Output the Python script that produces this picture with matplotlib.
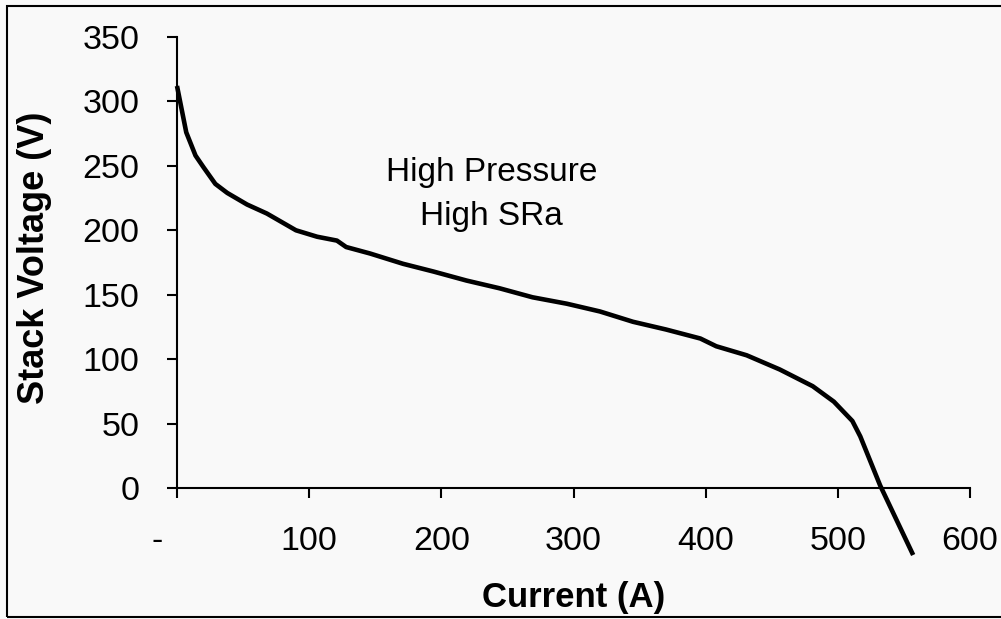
import matplotlib
matplotlib.use('Agg')
import matplotlib.pyplot as plt
from matplotlib.patches import Rectangle

plt.rcParams['font.family'] = ['Liberation Sans', 'DejaVu Sans']

# Polarization curve
current = [0, 7, 14, 20, 29, 38, 53, 68, 90, 106, 121, 128, 146, 171, 194,
           219, 244, 269, 295, 320, 345, 370, 396, 408, 431, 456, 481, 497,
           511, 517, 532, 557]
voltage = [312, 276, 258, 249, 236, 229, 220, 213, 200, 195, 192, 187, 182,
           174, 168, 161, 155, 148, 143, 137, 129, 123, 116, 110, 103, 92,
           79, 67, 52, 40, 2, -52]

x_ticks = [0, 100, 200, 300, 400, 500, 600]
x_tick_labels = ['-    ', '100', '200', '300', '400', '500', '600']
y_ticks = [0, 50, 100, 150, 200, 250, 300, 350]

bg = '#f9f9f9'
fig = plt.figure(figsize=(10.01, 6.19), dpi=100, facecolor=bg)
ax = fig.add_axes([177 / 1001, 131 / 619, 793 / 1001, 451 / 619])
ax.set_facecolor(bg)

ax.plot(current, voltage, color='black', linewidth=3.3, clip_on=False,
        solid_joinstyle='round', solid_capstyle='butt')

ax.set_xlim(0, 600)
ax.set_ylim(0, 350)
ax.set_xticks(x_ticks)
ax.set_xticklabels(x_tick_labels)
ax.set_yticks(y_ticks)

for side in ['top', 'right']:
    ax.spines[side].set_visible(False)
for side in ['left', 'bottom']:
    ax.spines[side].set_linewidth(1.5)

ax.tick_params(axis='both', direction='out', length=7, width=1.5,
               labelsize=24.5, colors='black')
ax.tick_params(axis='x', pad=20)
ax.tick_params(axis='y', pad=20)

ax.set_xlabel('Current (A)', fontsize=25, fontweight='bold')
ax.set_ylabel('Stack Voltage (V)', fontsize=26, fontweight='bold')
ax.xaxis.set_label_coords(0.5, -0.206)
ax.yaxis.set_label_coords(-0.157, 0.51)

ax.text(0.397, 0.65, 'High Pressure\nHigh SRa', transform=ax.transAxes,
        ha='center', va='center', fontsize=24, linespacing=1.55)

# scanned frame around the chart
fig.add_artist(Rectangle((7 / 1001, 2 / 619), 1.2, 611 / 619,
                         transform=fig.transFigure, fill=False,
                         edgecolor='black', linewidth=1.5))

fig.savefig('out.png', dpi=100, facecolor=bg)
